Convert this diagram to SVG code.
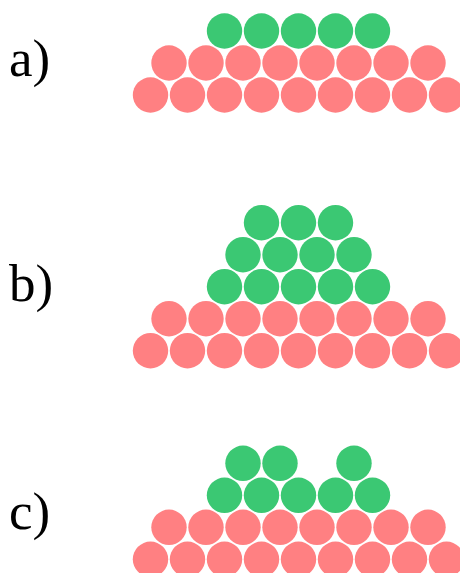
<svg xmlns="http://www.w3.org/2000/svg" width="460" height="573" viewBox="0 0 460 573">
<defs>
<style>
.r{fill:#ff8082}
.g{fill:#3bc873}
.lbl{font-family:"Liberation Serif","Times New Roman",serif;font-size:53px;fill:#000}
</style>
<circle id="R" class="r" r="17.7"/>
<circle id="G" class="g" r="17.7"/>
<g id="base">
<use href="#R" x="150.5" y="0"/><use href="#R" x="187.5" y="0"/><use href="#R" x="224.5" y="0"/><use href="#R" x="261.5" y="0"/><use href="#R" x="298.5" y="0"/><use href="#R" x="335.5" y="0"/><use href="#R" x="372.5" y="0"/><use href="#R" x="409.5" y="0"/><use href="#R" x="446.5" y="0"/>
<use href="#R" x="169" y="-32"/><use href="#R" x="206" y="-32"/><use href="#R" x="243" y="-32"/><use href="#R" x="280" y="-32"/><use href="#R" x="317" y="-32"/><use href="#R" x="354" y="-32"/><use href="#R" x="391" y="-32"/><use href="#R" x="428" y="-32"/>
</g>
<g id="row5">
<use href="#G" x="224.5" y="0"/><use href="#G" x="261.5" y="0"/><use href="#G" x="298.5" y="0"/><use href="#G" x="335.5" y="0"/><use href="#G" x="372.5" y="0"/>
</g>
</defs>
<g id="panel-a">
<text class="lbl" x="9" y="76">a)</text>
<use href="#base" y="95"/>
<use href="#row5" y="31"/>
</g>
<g id="panel-b">
<text class="lbl" x="9" y="301">b)</text>
<use href="#base" y="350.7"/>
<use href="#row5" y="286.7"/>
<use href="#G" x="243" y="254.7"/><use href="#G" x="280" y="254.7"/><use href="#G" x="317" y="254.7"/><use href="#G" x="354" y="254.7"/>
<use href="#G" x="261.5" y="222.7"/><use href="#G" x="298.5" y="222.7"/><use href="#G" x="335.5" y="222.7"/>
</g>
<g id="panel-c">
<text class="lbl" x="9" y="529">c)</text>
<use href="#base" y="559.3"/>
<use href="#row5" y="495.3"/>
<use href="#G" x="243" y="463.3"/><use href="#G" x="280" y="463.3"/><use href="#G" x="354" y="463.3"/>
</g>
</svg>
